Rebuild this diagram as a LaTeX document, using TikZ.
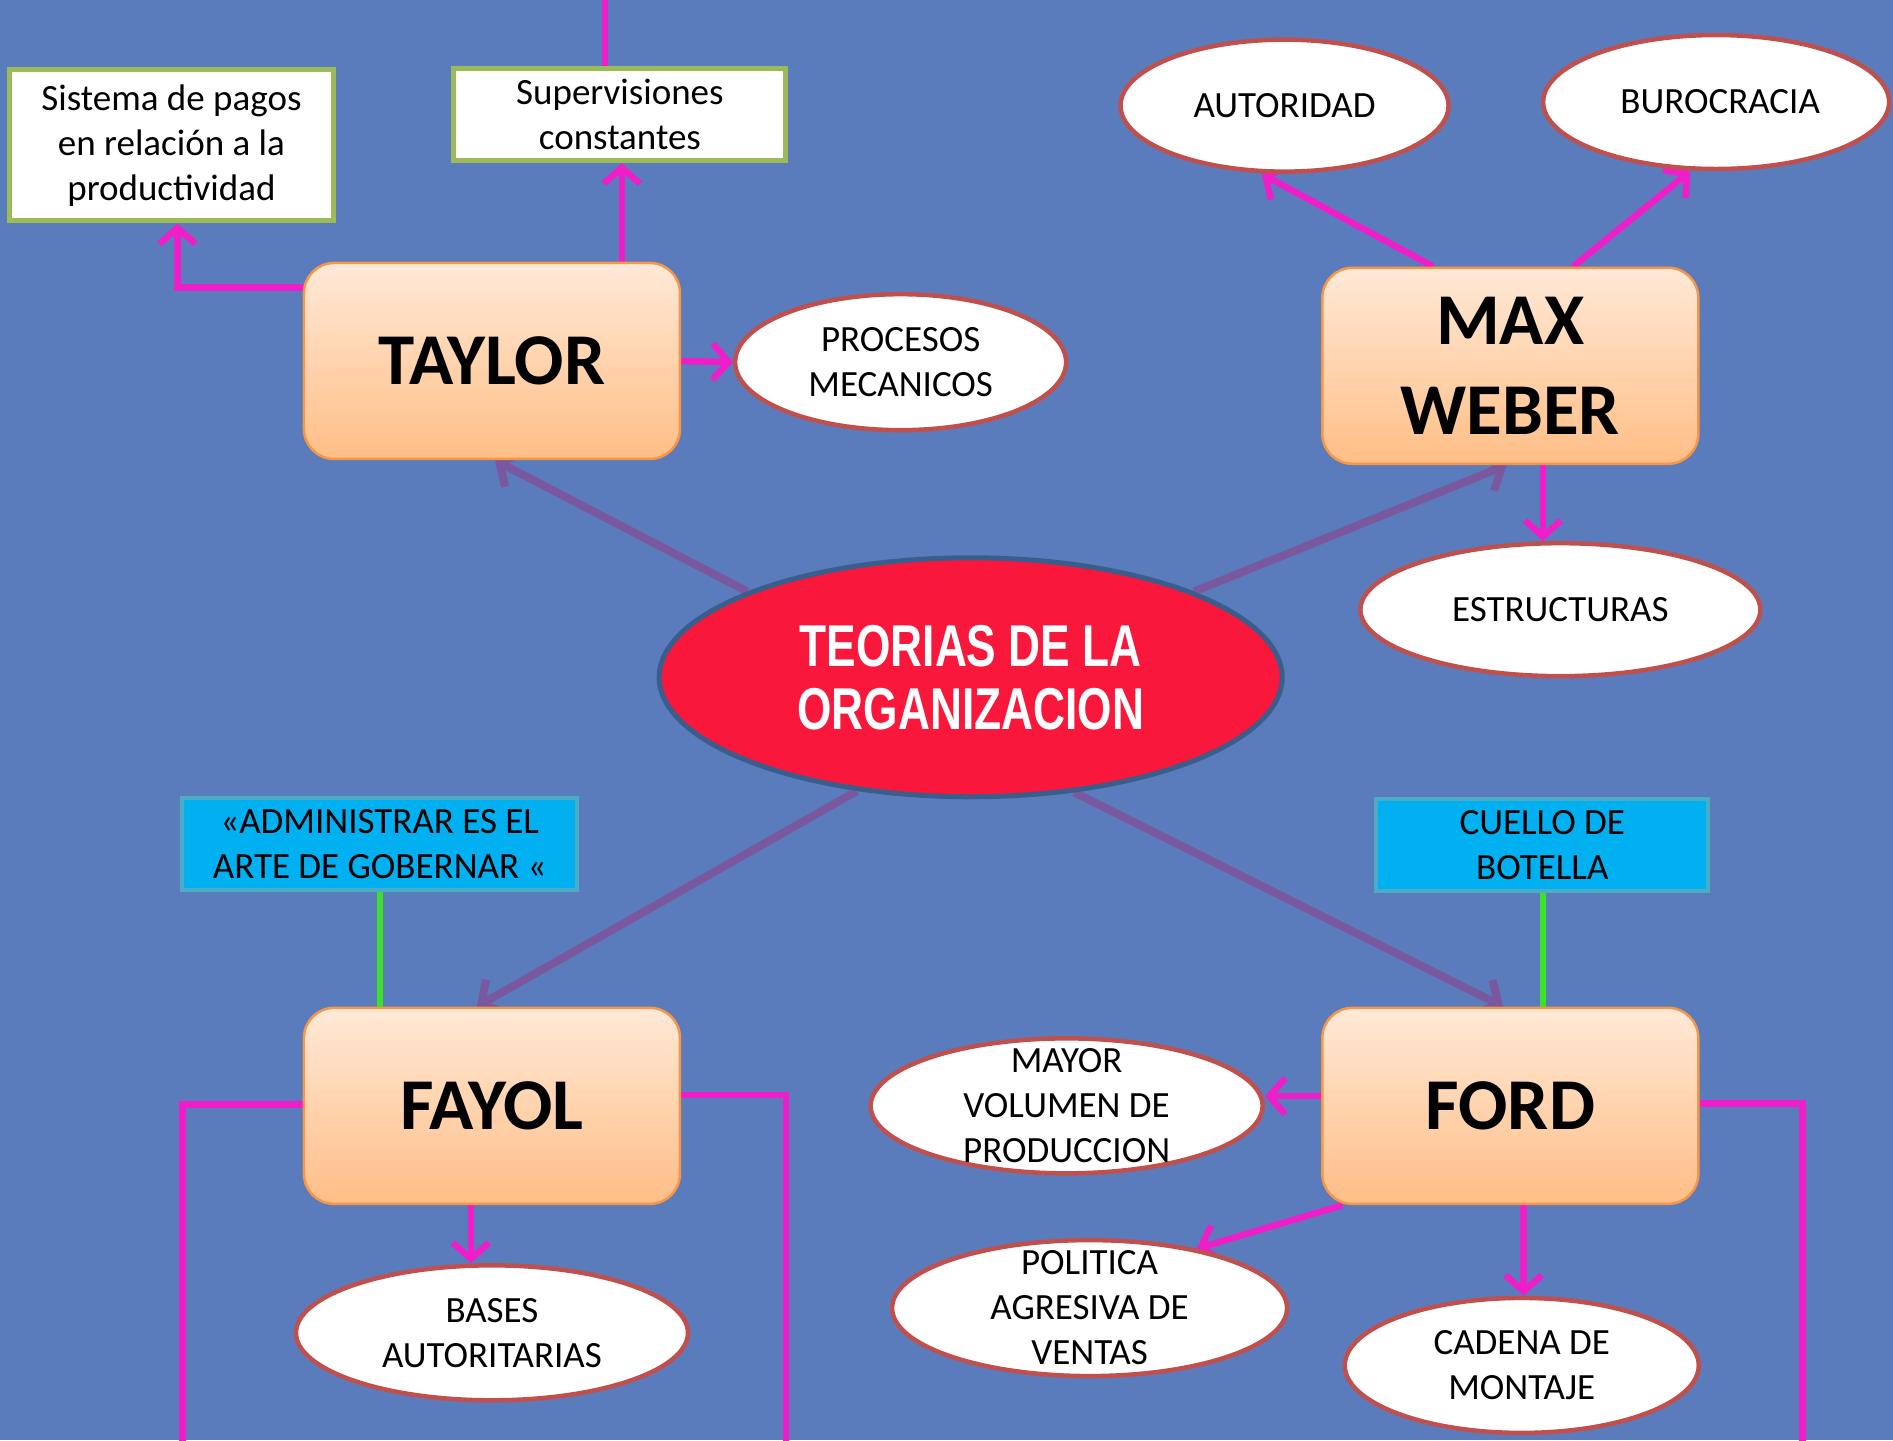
\documentclass[tikz,border=0pt]{standalone}
\usepackage{fontspec}
\setmainfont{Carlito}
\newfontfamily\cenfont[FakeStretch=0.75]{Liberation Sans}
\usetikzlibrary{shapes.geometric,arrows.meta,calc}
\pgfdeclarelayer{back}
\pgfdeclarelayer{conn}
\pgfsetlayers{back,conn,main}
\definecolor{cBg}{RGB}{90,124,188}
\definecolor{cPink}{RGB}{240,30,200}
\definecolor{cPurple}{RGB}{122,88,160}
\definecolor{cGreen}{RGB}{60,225,40}
\definecolor{cEll}{RGB}{192,80,77}
\definecolor{cOrTop}{RGB}{255,233,215}
\definecolor{cOrBot}{RGB}{255,190,134}
\definecolor{cOrB}{RGB}{247,150,70}
\definecolor{cCyan}{RGB}{0,176,240}
\definecolor{cCyanB}{RGB}{75,172,198}
\definecolor{cBoxGreen}{RGB}{155,187,89}
\definecolor{cRed}{RGB}{249,23,59}
\definecolor{cRedB}{RGB}{58,94,140}
\tikzset{
  ovalshape/.style={ellipse, draw=cEll, line width=4.5pt, fill=white, inner sep=0pt},
  ovaltext/.style={align=center, font=\fontsize{37}{45}\selectfont, inner sep=0pt},
  orbox/.style={rectangle, rounded corners=30pt, draw=cOrB, line width=2.5pt,
    top color=cOrTop, bottom color=cOrBot, minimum width=376pt, minimum height=196pt,
    align=center, font=\fontsize{73}{90}\selectfont\bfseries, inner sep=0pt},
  wbox/.style={rectangle, draw=cBoxGreen, line width=5pt, fill=white, align=center,
    font=\fontsize{37}{45}\selectfont, inner sep=0pt},
  cbox/.style={rectangle, draw=cCyanB, line width=4pt, fill=cCyan, align=center,
    font=\fontsize{37}{45}\selectfont, inner sep=0pt, minimum height=92pt},
  pk/.style={draw=cPink, line width=6.5pt},
  pka/.style={pk, -{Straight Barb[length=16pt,width=36pt]}},
  pua/.style={draw=cPurple, line width=8pt, -{Straight Barb[length=16pt,width=38pt]}},
  gr/.style={draw=cGreen, line width=6pt}
}
\begin{document}
\begin{tikzpicture}[x=1.2073pt, y=-1.2073pt]
\useasboundingbox (0,0) rectangle (1568,1193);
\clip (0,0) rectangle (1568,1193);
\begin{pgfonlayer}{back}
\fill[cBg] (0,0) rectangle (1568,1193);
\end{pgfonlayer}

% central
\node[ellipse, fill=cRed, draw=cRedB, line width=5pt, minimum width=623pt, minimum height=239pt,
  inner sep=0pt, font=\cenfont\bfseries\fontsize{59}{63}\selectfont, text=white, align=center]
  (cen) at (804,561) {TEORIAS DE LA\\ORGANIZACION};

% main boxes
\node[orbox] (taylor) at (407.5,299) {TAYLOR};
\node[orbox] (weber) at (1251,303) {MAX\\WEBER};
\node[orbox] (fayol) at (407.5,916) {FAYOL};
\node[orbox] (ford) at (1251,916) {FORD};

% white rectangles
\node[wbox, minimum width=324pt, minimum height=151pt] (sis) at (142,120.5)
  {Sistema de pagos\\en relación a la\\productividad};
\node[wbox, minimum width=332pt, minimum height=92pt] (sup) at (513.5,95)
  {Supervisiones\\constantes};

% cyan rectangles
\node[cbox, minimum width=395pt] (adm) at (314.5,699) {«ADMINISTRAR ES EL\\ARTE DE GOBERNAR «};
\node[cbox, minimum width=332pt] (cue) at (1277.5,700) {CUELLO DE\\BOTELLA};

% ellipses
\node[ovalshape, minimum width=331pt, minimum height=136pt] (proc) at (746,300) {};
\node[ovaltext] (proct) at (proc) {PROCESOS\\MECANICOS};
\node[ovalshape, minimum width=328pt, minimum height=132pt] (aut) at (1064,87.5) {};
\node[ovaltext] (autt) at (aut) {AUTORIDAD};
\node[ovalshape, minimum width=346pt, minimum height=134pt] (bur) at (1421.5,84.5) {};
\node[ovaltext] (burt) at ([xshift=4pt]bur) {BUROCRACIA};
\node[ovalshape, minimum width=400pt, minimum height=133pt] (est) at (1292.5,505) {};
\node[ovaltext] (estt) at (est) {ESTRUCTURAS};
\node[ovalshape, minimum width=392pt, minimum height=135pt] (bas) at (407.5,1104) {};
\node[ovaltext] (bast) at (bas) {BASES\\AUTORITARIAS};
\node[ovalshape, minimum width=392pt, minimum height=135pt] (may) at (883.5,916) {};
\node[ovaltext] (mayt) at (may) {MAYOR\\VOLUMEN DE\\PRODUCCION};
\node[ovalshape, minimum width=395pt, minimum height=136pt] (pol) at (902.5,1083.5) {};
\node[ovaltext] (polt) at (pol) {POLITICA\\AGRESIVA DE\\VENTAS};
\node[ovalshape, minimum width=354pt, minimum height=135pt] (cad) at (1260.5,1131) {};
\node[ovaltext] (cadt) at (cad) {CADENA DE\\MONTAJE};

% free ends
\coordinate (topend) at (501,-5);
\coordinate (fl) at (151,1200);
\coordinate (fr) at (651,1200);
\coordinate (fdr) at (1493,1200);

\begin{pgfonlayer}{conn}
\draw[pk] (topend) -- (sup.north -| topend);
\draw[pka] (taylor.west |- 0,238) -| (sis.south -| 147,0);
\draw[pka] (taylor.north -| 515,0) -- (sup.south -| 515,0);
\draw[pka] (taylor.east) -- (proc.west);
\draw[pka] (weber.north -| 1187,0) -- (aut.south -| 1045,0);
\draw[pka] (weber.north -| 1303,0) -- (bur.south -| 1400,0);
\draw[pka] (weber.south -| 1278,0) -- (est.north -| 1278,0);
\draw[pua] (cen.159) -- (taylor.south -| 410,0);
\draw[pua] (cen.21) -- (weber.south -| 1248,0);
\draw[pua] (cen.225) -- (fayol.north -| 395,0);
\draw[pua] (cen.312) -- (ford.north -| 1245,0);
\draw[gr] (adm.south -| 315,0) -- (fayol.north -| 315,0);
\draw[gr] (cue.south -| 1278,0) -- (ford.north -| 1278,0);
\draw[pk] (fayol.west |- 0,915) -| (fl);
\draw[pk] (fayol.east |- 0,907) -| (fr);
\draw[pka] (fayol.south -| 390,0) -- (bas.north -| 390,0);
\draw[pka] (ford.west |- 0,908) -- (may.east |- 0,908);
\draw[pka] (ford.south -| 1112,0) -- (pol.29);
\draw[pka] (ford.south -| 1262,0) -- (cad.north -| 1262,0);
\draw[pk] (ford.east |- 0,914) -| (fdr);
\end{pgfonlayer}
\end{tikzpicture}
\end{document}
